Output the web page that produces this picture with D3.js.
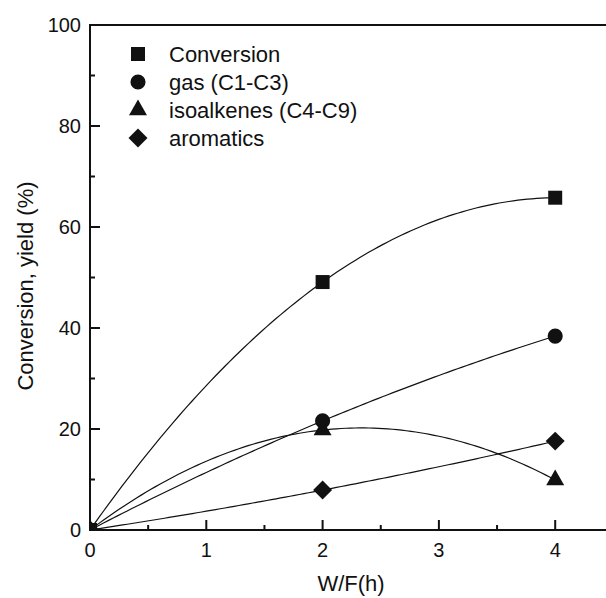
<!DOCTYPE html>
<html>
<head>
<meta charset="utf-8">
<script src="https://cdn.jsdelivr.net/npm/d3@7"></script>
<style>
  body { margin: 0; background: #fff; }
  text { font-family: Arial, "Liberation Sans", sans-serif; fill: #111; }
</style>
</head>
<body>
<div id="chart"></div>
<script>
// Data
const wf = [0, 2, 4]
const conversion = [0, 49.1, 65.8]
const gas = [0, 21.6, 38.4]
const isoalkenes = [0, 19.8, 9.9]
const aromatics = [0, 7.9, 17.6]

const seriesNames = ["Conversion", "gas (C1-C3)", "isoalkenes (C4-C9)", "aromatics"]
const xTicks = [0, 1, 2, 3, 4]
const yTicks = [0, 20, 40, 60, 80, 100]

function drawChart() {

  // Set dimensions
    let dimensions = {
        width: 606,
        height: 598,
        margin: {
            top: 25,
            left: 90,
            bottom: 68,
        }
    }
    dimensions.boundedHeight = dimensions.height - dimensions.margin.top - dimensions.margin.bottom

    const xScale = d3.scaleLinear()
        .domain([0, 4.5])
        .range([dimensions.margin.left, dimensions.margin.left + 4.5 * 116.3])
    const yScale = d3.scaleLinear()
        .domain([0, 100])
        .range([dimensions.margin.top + dimensions.boundedHeight, dimensions.margin.top])

    const svg = d3.select("#chart")
        .append("svg")
        .attr("width", dimensions.width)
        .attr("height", dimensions.height)

    const [x0, x1] = xScale.range()
    const [y0, y1] = yScale.range()

    svg.append("defs").append("clipPath")
        .attr("id", "plot-clip")
        .append("rect")
        .attr("x", x0)
        .attr("y", y1)
        .attr("width", x1 - x0)
        .attr("height", y0 - y1)

    const symbols = [
        {type: d3.symbolSquare, size: 196, rotate: 0},
        {type: d3.symbolCircle, size: 180, rotate: 0},
        {type: d3.symbolTriangle, size: 140, rotate: 0},
        {type: d3.symbolSquare, size: 180, rotate: 45},
    ]
    const allSeries = [conversion, gas, isoalkenes, aromatics]

    // quadratic through the three points, like the fitted lines of the figure
    const fitCurve = values => {
        const [xa, xb, xc] = wf
        const [ya, yb, yc] = values
        return x => ya * (x - xb) * (x - xc) / ((xa - xb) * (xa - xc))
            + yb * (x - xa) * (x - xc) / ((xb - xa) * (xb - xc))
            + yc * (x - xa) * (x - xb) / ((xc - xa) * (xc - xb))
    }

    const lineGenerator = d3.line()
        .x(d => xScale(d[0]))
        .y(d => yScale(d[1]))

    const plot = svg.append("g")
        .attr("clip-path", "url(#plot-clip)")

    allSeries.forEach((values, i) => {
        const f = fitCurve(values)
        const pts = d3.range(0, 4.0001, 0.04).map(x => [x, f(x)])
        plot.append("path")
            .attr("d", lineGenerator(pts))
            .attr("fill", "none")
            .attr("stroke", "#111")
            .attr("stroke-width", 1.2)
    })

    allSeries.forEach((values, i) => {
        const s = symbols[i]
        plot.selectAll(`.marker-${i}`)
            .data(values)
            .enter().append("path")
            .attr("class", `marker-${i}`)
            .attr("d", d3.symbol(s.type, s.size))
            .attr("transform", (d, j) => `translate(${xScale(wf[j])},${yScale(d)}) rotate(${s.rotate})`)
            .attr("fill", "#111")
    })

    // Axes frame
    const frame = svg.append("g")
        .attr("stroke", "#111")
        .attr("stroke-width", 2)
        .attr("fill", "none")
    frame.append("path")
        .attr("d", `M${x1 + 5},${y1}H${x0}V${y0}H${x1 + 5}`)

    // x ticks (inward)
    const xMinor = d3.range(0.5, 4.5, 1)
    frame.selectAll(".x-major")
        .data(xTicks)
        .enter().append("line")
        .attr("x1", d => xScale(d))
        .attr("x2", d => xScale(d))
        .attr("y1", y0)
        .attr("y2", y0 - 10)
    frame.selectAll(".x-minor")
        .data(xMinor)
        .enter().append("line")
        .attr("x1", d => xScale(d))
        .attr("x2", d => xScale(d))
        .attr("y1", y0)
        .attr("y2", y0 - 5)

    const yMinor = d3.range(10, 100, 20)
    frame.selectAll(".y-major")
        .data(yTicks)
        .enter().append("line")
        .attr("y1", d => yScale(d))
        .attr("y2", d => yScale(d))
        .attr("x1", x0)
        .attr("x2", x0 + 10)
    frame.selectAll(".y-minor")
        .data(yMinor)
        .enter().append("line")
        .attr("y1", d => yScale(d))
        .attr("y2", d => yScale(d))
        .attr("x1", x0)
        .attr("x2", x0 + 5)

    // tick labels
    svg.selectAll(".x-label")
        .data(xTicks)
        .enter().append("text")
        .attr("x", d => xScale(d))
        .attr("y", y0 + 27)
        .attr("text-anchor", "middle")
        .style("font-size", "20px")
        .text(d => d)
    svg.selectAll(".y-label")
        .data(yTicks)
        .enter().append("text")
        .attr("x", x0 - 9)
        .attr("y", d => yScale(d) + 7)
        .attr("text-anchor", "end")
        .style("font-size", "20px")
        .text(d => d)

    // axis titles
    svg.append("text")
        .attr("x", 351)
        .attr("y", 591)
        .attr("text-anchor", "middle")
        .style("font-size", "22px")
        .text("W/F(h)")
    svg.append("text")
        .attr("transform", `translate(33, 286) rotate(-90)`)
        .attr("text-anchor", "middle")
        .style("font-size", "22px")
        .text("Conversion, yield (%)")

    // legend
    const legend = svg.append("g")
        .attr("transform", "translate(138, 54)")
    seriesNames.forEach((name, i) => {
        const s = symbols[i]
        const row = legend.append("g")
            .attr("transform", `translate(0, ${i * 28})`)
        row.append("path")
            .attr("d", d3.symbol(s.type, s.size))
            .attr("transform", `rotate(${s.rotate})`)
            .attr("fill", "#111")
        row.append("text")
            .attr("x", 31)
            .attr("y", 8)
            .style("font-size", "22px")
            .text(name)
    })
}
drawChart()
</script>
</body>
</html>
